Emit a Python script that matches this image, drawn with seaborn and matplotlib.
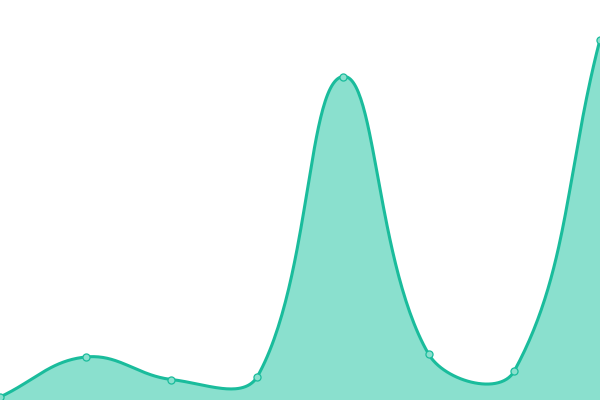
import numpy as np
import pandas as pd
import matplotlib
matplotlib.use("Agg")
import matplotlib.pyplot as plt
import seaborn as sns

# data (y axis runs 0..400)
positions = [0, 1, 2, 3, 4, 5, 6, 7]
values = [3, 43, 20.5, 23, 323.5, 46, 29, 360.5]

line_color = "#1abc9c"
fill_color = "#8ae0ce"

W, H = 600, 400
x_max, y_max = 7, 400


def smooth_path(xs, ys, tension=0.4, steps=60):
    """Bezier spline through the points, drawn in pixel space like Chart.js."""
    px = np.array(xs, float) * W / x_max
    py = np.array(ys, float) * H / y_max
    n = len(px)
    prev_c, next_c = [], []
    for i in range(n):
        a = (px[max(i - 1, 0)], py[max(i - 1, 0)])
        b = (px[i], py[i])
        c = (px[min(i + 1, n - 1)], py[min(i + 1, n - 1)])
        d01 = np.hypot(b[0] - a[0], b[1] - a[1])
        d12 = np.hypot(c[0] - b[0], c[1] - b[1])
        tot = d01 + d12
        s01 = d01 / tot if tot else 0
        s12 = d12 / tot if tot else 0
        fa, fb = tension * s01, tension * s12
        pc = (b[0] - fa * (c[0] - a[0]), b[1] - fa * (c[1] - a[1]))
        nc = (b[0] + fb * (c[0] - a[0]), b[1] + fb * (c[1] - a[1]))
        prev_c.append((np.clip(pc[0], 0, W), np.clip(pc[1], 0, H)))
        next_c.append((np.clip(nc[0], 0, W), np.clip(nc[1], 0, H)))
    t = np.linspace(0, 1, steps)[:, None]
    out = []
    for i in range(n - 1):
        p0 = np.array([px[i], py[i]])
        p1 = np.array(next_c[i])
        p2 = np.array(prev_c[i + 1])
        p3 = np.array([px[i + 1], py[i + 1]])
        seg = ((1 - t) ** 3) * p0 + 3 * ((1 - t) ** 2) * t * p1 + 3 * (1 - t) * t ** 2 * p2 + t ** 3 * p3
        out.append(seg if i == 0 else seg[1:])
    pts = np.vstack(out)
    return pts[:, 0] * x_max / W, pts[:, 1] * y_max / H


cx, cy = smooth_path(positions, values)
curve = pd.DataFrame({"x": cx, "y": cy})
points = pd.DataFrame({"x": positions, "y": values})

fig = plt.figure(figsize=(6, 4), dpi=100)
ax = fig.add_axes([0, 0, 1, 1])

ax.fill_between(curve["x"], curve["y"], 0, color=fill_color, linewidth=0)
sns.lineplot(data=curve, x="x", y="y", sort=False, color=line_color,
             linewidth=2.2, ax=ax)
sns.scatterplot(data=points, x="x", y="y", s=26, color=fill_color,
                edgecolor=line_color, linewidth=0.9, ax=ax, zorder=5,
                clip_on=False)

ax.set_xlim(0, x_max)
ax.set_ylim(0, y_max)
ax.axis("off")

fig.savefig("out.png", dpi=100)
